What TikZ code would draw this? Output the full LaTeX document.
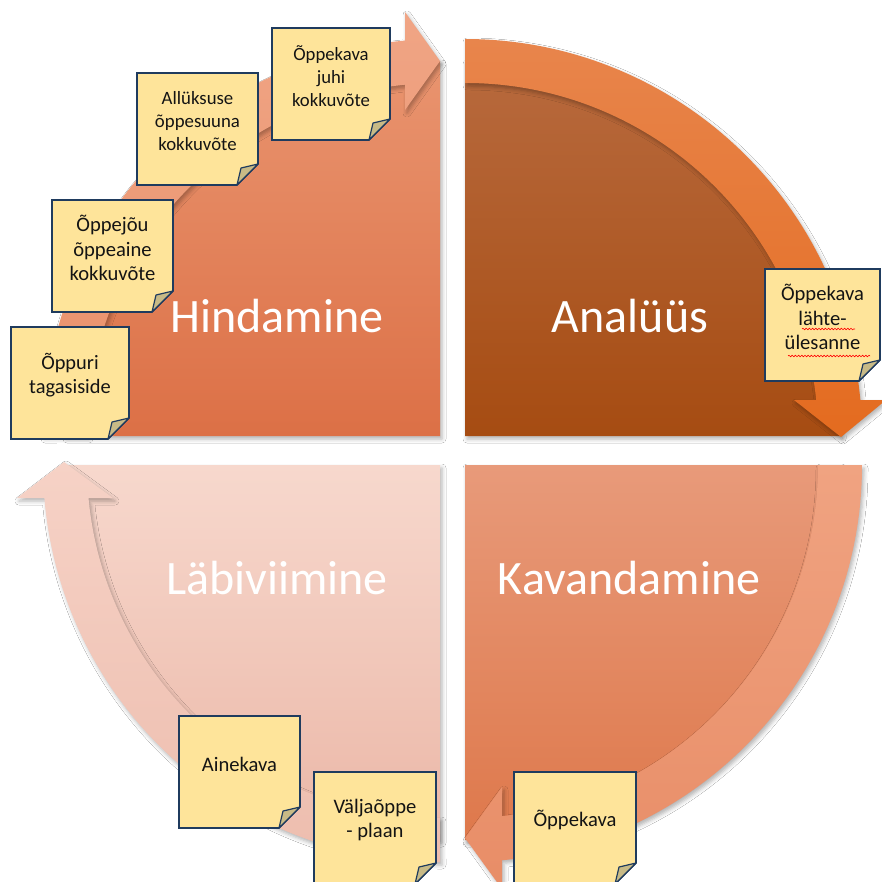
\documentclass[tikz,border=0pt]{standalone}
\usepackage{fontspec}
\setmainfont{Carlito}
\usetikzlibrary{shadows.blur,decorations.pathmorphing}
\definecolor{hfilltop}{HTML}{E9946F}
\definecolor{hfillbot}{HTML}{DC7046}
\definecolor{hbandtop}{HTML}{F0A585}
\definecolor{hbandbot}{HTML}{E98F69}
\definecolor{afilltop}{HTML}{B86A3E}
\definecolor{afillbot}{HTML}{A64C12}
\definecolor{abandtop}{HTML}{E8854C}
\definecolor{abandbot}{HTML}{E46B1F}
\definecolor{lfilltop}{HTML}{F7D8CD}
\definecolor{lfillbot}{HTML}{EBB7A7}
\definecolor{lbandtop}{HTML}{F6D2C6}
\definecolor{lbandbot}{HTML}{EDBDAE}
\definecolor{kfilltop}{HTML}{E89A7A}
\definecolor{kfillbot}{HTML}{DE784B}
\definecolor{kbandtop}{HTML}{F0A381}
\definecolor{kbandbot}{HTML}{E88D67}
\definecolor{noteyel}{HTML}{FEE49A}
\definecolor{notebd}{HTML}{1F3B5E}
\definecolor{notefold}{HTML}{C8BA86}
\tikzset{
  qshadow/.style={blur shadow={shadow xshift=2pt, shadow yshift=-3pt, shadow blur radius=4pt, shadow opacity=30}},
  notebox/.style={draw=notebd, line width=1.6pt, fill=noteyel, line join=miter},
  foldbox/.style={draw=notebd, line width=1.2pt, fill=notefold, line join=round},
  notetext/.style={align=center, text=black!92, inner sep=0pt},
  quadlabel/.style={font=\fontsize{48}{58}\selectfont, text=white, inner sep=0pt, anchor=base},
  spellwave/.style={draw=red, line width=0.6pt, decorate, decoration={snake, segment length=3.2pt, amplitude=0.8pt}}
}
% name, left x, top y, width, font size, line skip, text
\newcommand\stickynote[7]{%
  \path[notebox] (#2,#3) -- (#2+#4,#3) -- (#2+#4,#3+91) -- (#2+#4-21,#3+112) -- (#2,#3+112) -- cycle;
  \path[foldbox] (#2+#4-21,#3+112) -- (#2+#4,#3+91) -- (#2+#4-17,#3+95) -- cycle;
  \node[notetext, font=\fontsize{#5}{#6}\selectfont] (#1) at (#2+#4/2,#3+48) {#7};
}
\begin{document}
\begin{tikzpicture}[x=1pt,y=-1pt]
\useasboundingbox (0,0) rectangle (882,881);
\clip (0,0) rectangle (882,881);
\fill[white] (0,0) rectangle (882,881);

% ---------- Hindamine (top-left), centre (440,436)
\shade[qshadow, top color=hfilltop, bottom color=hfillbot]
  (440,436) -- (65,436) arc[start angle=180, end angle=270, radius=375] -- cycle;
\shade[qshadow, top color=hbandtop, bottom color=hbandbot]
  (43,436) arc[start angle=180, end angle=264.94, radius=397]
  -- (405,12) -- (440,61) -- (405,110) -- (405,84.7)
  arc[start angle=264.31, end angle=180, radius=353] -- cycle;

% ---------- Analyys (top-right), centre (465,436)
\shade[qshadow, top color=afilltop, bottom color=afillbot]
  (465,436) -- (465,61) arc[start angle=270, end angle=360, radius=375] -- cycle;
\shade[qshadow, top color=abandtop, bottom color=abandbot]
  (465,39) arc[start angle=270, end angle=354.8, radius=397]
  -- (886,400) -- (841,437) -- (794,400) -- (816.2,400)
  arc[start angle=354.15, end angle=270, radius=353] -- cycle;

% ---------- Labiviimine (bottom-left), centre (440,465)
\shade[qshadow, top color=lfilltop, bottom color=lfillbot]
  (440,465) -- (440,840) arc[start angle=90, end angle=180, radius=375] -- cycle;
\shade[qshadow, top color=lbandtop, bottom color=lbandbot]
  (440,862) arc[start angle=90, end angle=175.23, radius=397]
  -- (17,498) -- (64,462) -- (113,498) -- (88.5,498)
  arc[start angle=174.64, end angle=90, radius=353] -- cycle;

% ---------- Kavandamine (bottom-right), centre (465,465)
\shade[qshadow, top color=kfilltop, bottom color=kfillbot]
  (465,465) -- (840,465) arc[start angle=0, end angle=90, radius=375] -- cycle;
\shade[qshadow, top color=kbandtop, bottom color=kbandbot]
  (862,465) arc[start angle=0, end angle=84.65, radius=397]
  -- (502,889) -- (465,838) -- (502,787) -- (502,816.1)
  arc[start angle=83.98, end angle=0, radius=353] -- cycle;

% ---------- quadrant labels
\node[quadlabel] (hind) at (277,332) {Hindamine};
\node[quadlabel] (anal) at (630,332) {Analüüs};
\node[quadlabel] (labi) at (277,594) {Läbiviimine};
\node[quadlabel] (kava) at (629,594) {Kavandamine};

% ---------- sticky notes
\stickynote{n1}{272}{28}{118}{18.7}{22.8}{Õppekava\\juhi\\kokkuvõte}
\stickynote{n2}{137}{73}{121}{18.8}{22.8}{Allüksuse\\õppesuuna\\kokkuvõte}
\stickynote{n3}{52}{200}{121}{20.6}{24.5}{Õppejõu\\õppeaine\\kokkuvõte}
\stickynote{n4}{11}{327}{118}{20.4}{24.5}{Õppuri\\tagasiside}
\stickynote{n5}{765}{269}{115}{20.6}{24.5}{Õppekava\\lähte-\\ülesanne}
\stickynote{n6}{179}{716}{121}{20.6}{24.5}{Ainekava}
\stickynote{n7}{314}{772}{122}{20.6}{24.5}{Väljaõppe\\- plaan}
\stickynote{n8}{514}{772}{122}{20.6}{24.5}{Õppekava}

% spell-check underlines
\path[spellwave] (802,329) -- (855,329);
\path[spellwave] (788,356) -- (870,356);
\end{tikzpicture}
\end{document}
